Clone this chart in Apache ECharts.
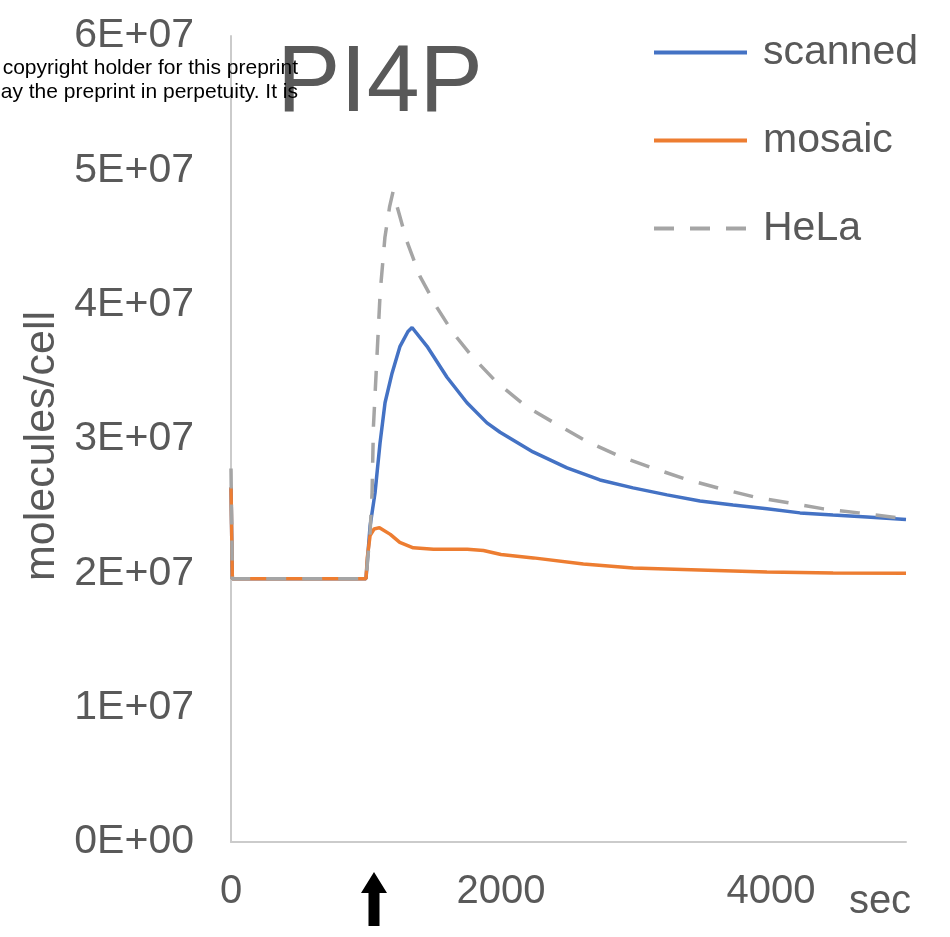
<!DOCTYPE html>
<html>
<head>
<meta charset="utf-8">
<title>PI4P</title>
<script src="https://cdn.jsdelivr.net/npm/echarts@6/dist/echarts.min.js"></script>
<style>
  html, body { margin: 0; padding: 0; background: #ffffff; }
  #chart { width: 950px; height: 937px; }
</style>
</head>
<body>
<div id="chart"></div>
<script>
// PI4P molecules per cell over time (sec); stimulus applied at ~1000 s.
const seriesNames = ['scanned', 'mosaic', 'HeLa'];

const scannedTime = [0, 10, 1000, 1030, 1067, 1104, 1141, 1193, 1252, 1311, 1341, 1452, 1600, 1748, 1896, 1993, 2237, 2489, 2733, 2978, 3230, 3474, 3719, 3970, 4215, 4459, 4711, 5000];
const scannedValue = [2.64e7, 1.96e7, 1.96e7, 2.35e7, 2.60e7, 2.97e7, 3.27e7, 3.49e7, 3.69e7, 3.80e7, 3.83e7, 3.69e7, 3.46e7, 3.27e7, 3.12e7, 3.05e7, 2.904e7, 2.785e7, 2.695e7, 2.636e7, 2.584e7, 2.539e7, 2.509e7, 2.48e7, 2.45e7, 2.435e7, 2.42e7, 2.40e7];

const mosaicTime = [0, 10, 1000, 1010, 1030, 1060, 1100, 1180, 1250, 1350, 1500, 1750, 1870, 2000, 2240, 2610, 2980, 3470, 3970, 4460, 5000];
const mosaicValue = [2.64e7, 1.96e7, 1.96e7, 2.12e7, 2.28e7, 2.33e7, 2.34e7, 2.29e7, 2.23e7, 2.19e7, 2.18e7, 2.18e7, 2.17e7, 2.14e7, 2.115e7, 2.07e7, 2.04e7, 2.025e7, 2.01e7, 2.003e7, 2.0e7];

const helaTime = [0, 10, 1000, 1030, 1045, 1055, 1080, 1105, 1140, 1175, 1200, 1250, 1300, 1400, 1525, 1645, 1790, 1970, 2190, 2420, 2640, 2870, 3120, 3370, 3610, 3870, 4130, 4390, 4650, 4930, 5000];
const helaValue = [2.78e7, 1.96e7, 1.96e7, 2.3e7, 2.6e7, 3.09e7, 3.59e7, 4.09e7, 4.5e7, 4.73e7, 4.84e7, 4.66e7, 4.48e7, 4.21e7, 3.98e7, 3.79e7, 3.61e7, 3.42e7, 3.24e7, 3.105e7, 2.98e7, 2.875e7, 2.785e7, 2.70e7, 2.635e7, 2.57e7, 2.525e7, 2.48e7, 2.45e7, 2.415e7, 2.405e7];

const xTicks = [0, 2000, 4000];
const yTicks = [0, 1e7, 2e7, 3e7, 4e7, 5e7, 6e7];

const FONT = '"Liberation Sans", Arial, Helvetica, sans-serif';
const TEXT_GREY = '#595959';
const AXIS_GREY = '#cbcbcb';

function pairs(t, v) { return t.map((x, i) => [x, v[i]]); }

function sci(v) {
  if (v === 0) return '0E+00';
  const e = Math.floor(Math.log10(Math.abs(v)) + 1e-9);
  const m = Math.round(v / Math.pow(10, e) * 100) / 100;
  return m + 'E+' + String(e).padStart(2, '0');
}

const chart = echarts.init(document.getElementById('chart'), null, { renderer: 'canvas' });

chart.setOption({
  animation: false,
  backgroundColor: '#ffffff',
  textStyle: { fontFamily: FONT },
  title: {
    text: 'PI4P',
    left: 277,
    top: 37,
    padding: 0,
    textStyle: { fontFamily: FONT, fontSize: 95, fontWeight: 'normal', color: TEXT_GREY }
  },
  legend: {
    orient: 'vertical',
    left: 647,
    top: 27,
    itemWidth: 93,
    itemHeight: 14,
    itemGap: 47,
    data: seriesNames,
    lineStyle: { width: 4 },
    // line-only keys: hide the marker dot the line legend adds
    itemStyle: { opacity: 0 },
    textStyle: { fontFamily: FONT, fontSize: 41, color: TEXT_GREY, padding: [0, 0, 0, 11] }
  },
  grid: { left: 231, right: 44, top: 36, bottom: 95, containLabel: false },
  xAxis: {
    type: 'value',
    min: xTicks[0],
    max: 5000,
    interval: xTicks[1] - xTicks[0],
    axisLine: { show: true, lineStyle: { color: AXIS_GREY, width: 2 } },
    axisTick: { show: false },
    splitLine: { show: false },
    axisLabel: {
      showMaxLabel: false,
      margin: 30,
      fontFamily: FONT,
      fontSize: 40,
      color: TEXT_GREY,
      formatter: v => (xTicks.indexOf(v) >= 0 ? String(v) : '')
    }
  },
  yAxis: {
    type: 'value',
    min: yTicks[0],
    max: yTicks[yTicks.length - 1],
    interval: yTicks[1] - yTicks[0],
    axisLine: { show: true, lineStyle: { color: AXIS_GREY, width: 2 } },
    axisTick: { show: false },
    splitLine: { show: false },
    axisLabel: {
      margin: 37,
      fontFamily: FONT,
      fontSize: 41,
      color: TEXT_GREY,
      formatter: v => sci(v)
    }
  },
  series: [
    {
      name: seriesNames[0],
      type: 'line',
      data: pairs(scannedTime, scannedValue),
      symbol: 'none',
      lineStyle: { color: '#4472C4', width: 3.5 },
      itemStyle: { color: '#4472C4' },
      z: 2
    },
    {
      name: seriesNames[1],
      type: 'line',
      data: pairs(mosaicTime, mosaicValue),
      symbol: 'none',
      lineStyle: { color: '#ED7D31', width: 3.5 },
      itemStyle: { color: '#ED7D31' },
      z: 3
    },
    {
      name: seriesNames[2],
      type: 'line',
      data: pairs(helaTime, helaValue),
      symbol: 'none',
      lineStyle: { color: '#A5A5A5', width: 3.5, type: [20, 16] },
      itemStyle: { color: '#A5A5A5' },
      z: 4
    }
  ],
  graphic: [
    {
      type: 'text',
      x: 42, y: 446,
      rotation: Math.PI / 2,
      style: {
        text: 'molecules/cell',
        font: '43px ' + FONT,
        fill: TEXT_GREY,
        align: 'center',
        verticalAlign: 'middle'
      }
    },
    {
      type: 'text',
      x: 880, y: 902,
      style: {
        text: 'sec',
        font: '40px ' + FONT,
        fill: TEXT_GREY,
        align: 'center',
        verticalAlign: 'middle'
      }
    },
    {
      type: 'polygon',
      shape: {
        points: [[374, 872], [387, 893], [379.5, 893], [379.5, 926], [368.5, 926], [368.5, 893], [361, 893]]
      },
      style: { fill: '#000000' }
    },
    {
      type: 'text',
      x: 298, y: 68,
      z: 100,
      style: {
        text: 'copyright holder for this preprint',
        font: '21px ' + FONT,
        fill: '#000000',
        align: 'right',
        verticalAlign: 'middle'
      }
    },
    {
      type: 'text',
      x: 298, y: 92,
      z: 100,
      style: {
        text: 'ay the preprint in perpetuity. It is',
        font: '21px ' + FONT,
        fill: '#000000',
        align: 'right',
        verticalAlign: 'middle'
      }
    }
  ]
});
</script>
</body>
</html>
